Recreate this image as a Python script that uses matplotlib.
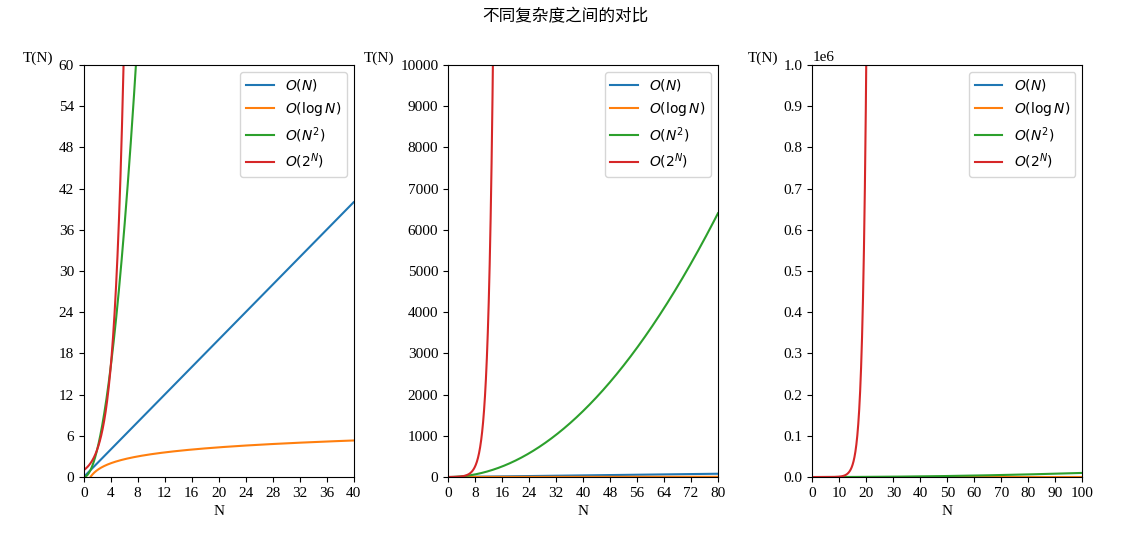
import numpy as np
import matplotlib
matplotlib.use("Agg")
import matplotlib.pyplot as plt

# Domain of N for each panel and axis limits
x_max = [40, 80, 100]
y_max = [60, 10000, 1e6]
x_step = [4, 8, 10]
y_step = [6, 1000, 1e5]
labels = [r'$O(N)$', r'$O(\log N)$', r'$O(N^2)$', r'$O(2^N)$']
title = '不同复杂度之间的对比'

plt.rcParams['font.family'] = ['Liberation Serif', 'Noto Sans CJK SC', 'DejaVu Sans']
plt.rcParams['font.size'] = 11

fig, axes = plt.subplots(1, 3, figsize=(11.31, 5.36), dpi=100)
fig.subplots_adjust(left=0.074, right=0.957, bottom=0.11, top=0.879, wspace=0.35)

for ax, xm, ym, xs, ys in zip(axes, x_max, y_max, x_step, y_step):
    n = np.linspace(0.01, xm, 2000)
    with np.errstate(divide='ignore'):
        ax.plot(n, n, label=labels[0])
        ax.plot(n, np.log2(n), label=labels[1])
        ax.plot(n, n ** 2, label=labels[2])
        ax.plot(n, 2.0 ** n, label=labels[3])
    ax.set_xlim(0, xm)
    ax.set_ylim(0, ym)
    ax.set_xticks(np.arange(0, xm + xs / 2, xs))
    ax.set_yticks(np.arange(0, ym + ys / 2, ys))
    ax.set_xlabel('N')
    ax.set_ylabel('T(N)', rotation=0, loc='top')
    ax.legend(loc='upper right', prop={'family': 'DejaVu Sans', 'size': 10})

fig.suptitle(title, family=['Noto Sans CJK SC', 'DejaVu Sans'], fontsize=12, y=0.985)
fig.savefig('out.png')
